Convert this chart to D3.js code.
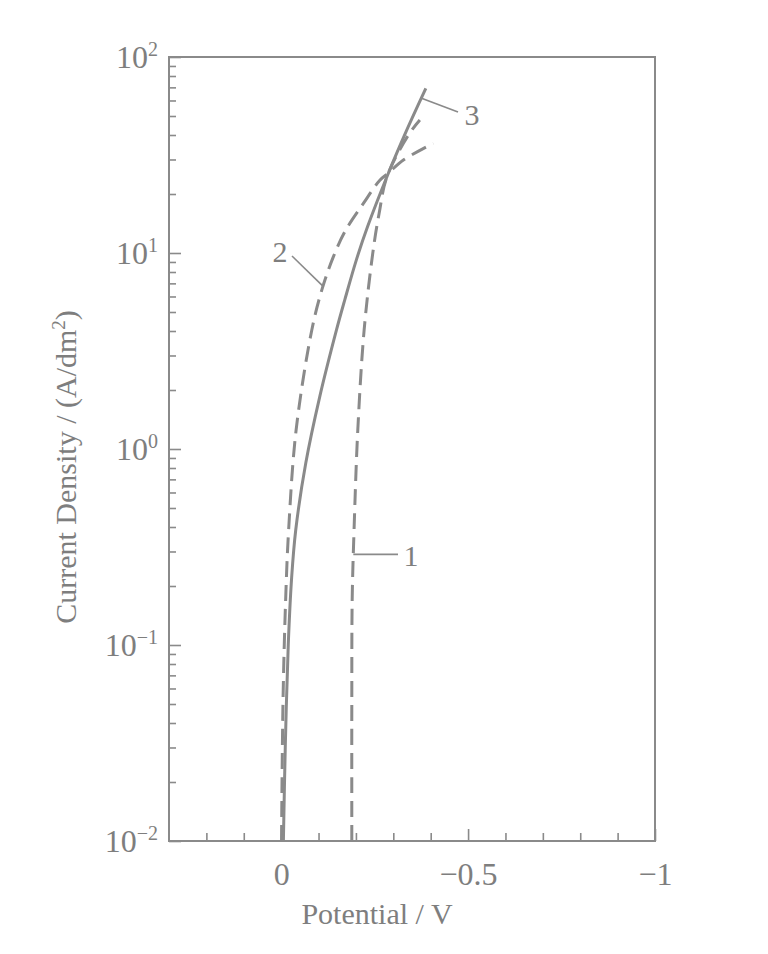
<!DOCTYPE html>
<html>
<head>
<meta charset="utf-8">
<script src="https://cdn.jsdelivr.net/npm/d3@7"></script>
<style>
  body { margin: 0; background: #fff; }
  svg text { font-family: "Liberation Serif", "DejaVu Serif", serif; fill: #7e7e7e; }
</style>
</head>
<body>
<svg id="chart"></svg>
<script>
// Curve 1 (dashed, right)
const curve1V = [-0.189, -0.189, -0.190, -0.195, -0.205, -0.222, -0.245, -0.262, -0.283, -0.340, -0.371];
const curve1I = [0.01, 0.05, 0.17, 0.386, 1.25, 4.05, 9.96, 15.9, 24.5, 39.9, 47.7];

// Curve 2 (dashed, left)
const curve2V = [-0.001, -0.005, -0.012, -0.020, -0.040, -0.082, -0.109, -0.139, -0.171, -0.220, -0.264, -0.287, -0.327, -0.407];
const curve2I = [0.01, 0.052, 0.17, 0.386, 1.25, 4.05, 6.5, 9.5, 12.9, 17.9, 23.5, 25.6, 29.8, 36.3];

// Curve 3 (solid)
const curve3V = [-0.006, -0.011, -0.019, -0.028, -0.039, -0.066, -0.103, -0.148, -0.170, -0.201, -0.231, -0.287, -0.335, -0.387];
const curve3I = [0.01, 0.03, 0.1, 0.22, 0.386, 0.85, 1.84, 4.05, 5.75, 9.2, 13.6, 25.6, 42, 69.2];

// Tick values
const xMajorTicks = [0, -0.5, -1];
const xMajorLabels = ["0", "\u22120.5", "\u22121"];
const xMinorTicks = [0.2, 0.1, -0.1, -0.2, -0.3, -0.4, -0.6, -0.7, -0.8, -0.9];
const yExponents = [-2, -1, 0, 1, 2];
const yMinorMult = [2, 3, 4, 5, 6, 7, 8, 9];

// Canvas
const W = 768, H = 954;
const margin = { left: 169, top: 57, right: 113, bottom: 113 };
const innerW = W - margin.left - margin.right;
const innerH = H - margin.top - margin.bottom;
const grey = "#8a8a8a";

const svg = d3.select("#chart").attr("width", W).attr("height", H);
const g = svg.append("g").attr("transform", `translate(${margin.left},${margin.top})`);

const x = d3.scaleLinear().domain([0.3, -1]).range([0, innerW]);
const y = d3.scaleLog().domain([0.01, 100]).range([innerH, 0]);

// minor y ticks
const yMinor = [];
yExponents.slice(0, -1).forEach(e => yMinorMult.forEach(m => yMinor.push(m * Math.pow(10, e))));

function styleAxis(sel) {
  sel.select(".domain").remove();
  sel.selectAll("line").attr("stroke", grey).attr("stroke-width", 1.6);
}

g.append("g")
  .call(d3.axisLeft(y).tickValues(yMinor).tickSizeInner(-7).tickSizeOuter(0).tickFormat(""))
  .call(styleAxis);

const yAx = g.append("g")
  .call(d3.axisLeft(y).tickValues(yExponents.map(e => Math.pow(10, e))).tickSizeInner(-12).tickSizeOuter(0).tickPadding(11))
  .call(styleAxis);

// labels as 10 with superscript exponent
yAx.selectAll("text").each(function (d) {
  const e = Math.round(Math.log10(d));
  const t = d3.select(this).text("").attr("font-size", 32).attr("dy", "0.32em");
  t.append("tspan").text("10");
  t.append("tspan").attr("font-size", 20).attr("dy", -12).text(e < 0 ? "\u2212" + (-e) : e);
});

g.append("g").attr("transform", `translate(0,${innerH})`)
  .call(d3.axisBottom(x).tickValues(xMinorTicks).tickSizeInner(-8).tickSizeOuter(0).tickFormat(""))
  .call(styleAxis);

g.append("g").attr("transform", `translate(0,${innerH})`)
  .call(d3.axisBottom(x).tickValues(xMajorTicks).tickSizeInner(-12).tickSizeOuter(0).tickPadding(21)
    .tickFormat((d, i) => xMajorLabels[i]))
  .call(styleAxis)
  .selectAll("text").attr("font-size", 32);

// frame
g.append("rect").attr("width", innerW).attr("height", innerH)
  .attr("fill", "none").attr("stroke", grey).attr("stroke-width", 2);

// curves
const line = d3.line().x(d => x(d[0])).y(d => y(d[1])).curve(d3.curveCatmullRom.alpha(0.5));
const curves = [
  { v: curve1V, i: curve1I, dash: "16,8" },
  { v: curve2V, i: curve2I, dash: "16,8" },
  { v: curve3V, i: curve3I, dash: null }
];
curves.forEach(c => {
  g.append("path")
    .datum(c.v.map((v, k) => [v, c.i[k]]))
    .attr("d", line)
    .attr("fill", "none")
    .attr("stroke", grey)
    .attr("stroke-width", 3)
    .attr("stroke-dasharray", c.dash);
});

// curve labels with leader lines (leader starts on the curve, ends near the number)
const labels = [
  { t: "1", v: -0.193, i: 0.29, ex: 398, ey: null, tx: 411, ty: 555 },
  { t: "2", v: -0.111, i: 6.8, ex: 292, ey: 256, tx: 280, ty: 251 },
  { t: "3", v: -0.372, i: 62, ex: 458, ey: 112, tx: 472, ty: 114 }
];
labels.forEach(l => {
  const px = x(l.v) + margin.left, py = y(l.i) + margin.top;
  svg.append("line").attr("x1", px).attr("y1", py).attr("x2", l.ex).attr("y2", l.ey === null ? py : l.ey)
    .attr("stroke", grey).attr("stroke-width", 1.6);
  svg.append("text").attr("x", l.tx).attr("y", l.ty).attr("dy", "0.35em")
    .attr("text-anchor", "middle").attr("font-size", 30).text(l.t);
});

// axis titles
svg.append("text")
  .attr("x", 377).attr("y", 924)
  .attr("text-anchor", "middle").attr("font-size", 30)
  .text("Potential / V");

const yt = svg.append("text")
  .attr("transform", "translate(76,467) rotate(-90)")
  .attr("text-anchor", "middle").attr("font-size", 30);
yt.append("tspan").text("Current Density / (A/dm");
yt.append("tspan").attr("font-size", 19).attr("dy", -11).text("2");
yt.append("tspan").attr("dy", 11).text(")");
</script>
</body>
</html>
